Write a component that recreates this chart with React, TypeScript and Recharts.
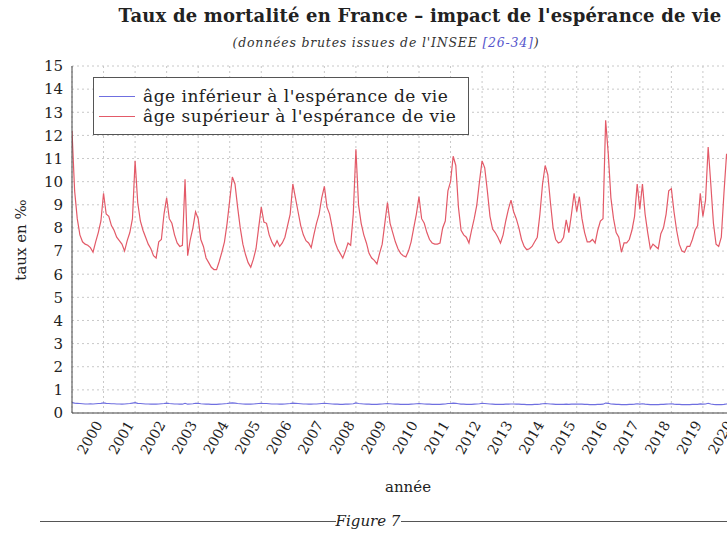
import React from 'react';
import { LineChart, Line, XAxis, YAxis, CartesianGrid, Legend } from 'recharts';

// monthly series, first point = January of firstYear (axis units)
const firstYear = 1999;

const tickYears = [2000, 2001, 2002, 2003, 2004, 2005, 2006, 2007, 2008, 2009, 2010,
  2011, 2012, 2013, 2014, 2015, 2016, 2017, 2018, 2019, 2020];

const yTicks = [0, 1, 2, 3, 4, 5, 6, 7, 8, 9, 10, 11, 12, 13, 14, 15];

const seriesNames = ["âge inférieur à l'espérance de vie", "âge supérieur à l'espérance de vie"];

const rateAbove = [
  12.2, 9.6, 8.4, 7.7, 7.4, 7.3, 7.25, 7.15, 6.95, 7.4, 7.8, 8.3,
  9.5, 8.6, 8.5, 8.1, 7.9, 7.6, 7.45, 7.3, 7.0, 7.45, 7.8, 8.4,
  10.9, 9.1, 8.3, 7.9, 7.6, 7.3, 7.1, 6.8, 6.7, 7.4, 7.5, 8.6,
  9.3, 8.4, 8.2, 7.7, 7.35, 7.2, 7.25, 10.1, 6.8, 7.5, 8.0, 8.7,
  8.4, 7.5, 7.2, 6.7, 6.5, 6.3, 6.2, 6.2, 6.55, 6.95, 7.4, 8.2,
  9.2, 10.2, 9.9, 8.9, 8.0, 7.3, 6.85, 6.5, 6.3, 6.65, 7.1, 8.0,
  8.9, 8.25, 8.2, 7.7, 7.4, 7.2, 7.45, 7.2, 7.35, 7.6, 8.1, 8.6,
  9.9, 9.3, 8.7, 8.1, 7.7, 7.45, 7.35, 7.15, 7.7, 8.2, 8.6, 9.3,
  9.8, 8.9, 8.6, 8.0, 7.4, 7.1, 6.9, 6.7, 7.0, 7.35, 7.25, 8.6,
  11.4, 9.0, 8.2, 7.7, 7.35, 6.9, 6.7, 6.6, 6.45, 6.9, 7.3, 8.2,
  9.1, 8.2, 7.8, 7.4, 7.1, 6.9, 6.8, 6.75, 7.0, 7.4, 8.0, 8.6,
  9.35, 8.4, 8.2, 7.8, 7.5, 7.35, 7.3, 7.3, 7.35, 8.0, 8.3, 9.6,
  10.0, 11.1, 10.7, 8.9, 7.9, 7.7, 7.6, 7.35, 7.9, 8.4, 9.0, 10.0,
  10.9, 10.6, 9.6, 8.5, 7.95, 7.8, 7.6, 7.35, 7.7, 8.3, 8.8, 9.2,
  8.7, 8.4, 8.0, 7.5, 7.2, 7.06, 7.1, 7.2, 7.4, 7.6, 8.6, 9.9,
  10.7, 10.3, 9.1, 8.0, 7.5, 7.35, 7.4, 7.6, 8.35, 7.8, 8.6, 9.5,
  8.7, 9.35, 8.4, 7.8, 7.4, 7.4, 7.5, 7.35, 7.9, 8.3, 8.4, 12.65,
  11.2, 9.3, 8.4, 7.8, 7.6, 6.95, 7.35, 7.35, 7.5, 7.9, 8.5, 9.9,
  8.8, 9.9, 8.6, 7.8, 7.1, 7.3, 7.2, 7.1, 7.75, 8.0, 8.6, 9.6,
  9.7, 8.7, 7.9, 7.3, 7.0, 6.95, 7.2, 7.2, 7.5, 7.9, 8.1, 9.5,
  8.5, 9.2, 11.5, 9.9, 8.2, 7.3, 7.2, 7.6, 9.5, 11.2, 10.6, 9.8,
  9.4, 8.6,
];

const rateBelow = [
  0.45, 0.43, 0.42, 0.41, 0.40, 0.39, 0.39, 0.40, 0.39, 0.40, 0.41, 0.42,
  0.44, 0.42, 0.41, 0.40, 0.40, 0.39, 0.39, 0.38, 0.39, 0.40, 0.41, 0.43,
  0.45, 0.42, 0.41, 0.40, 0.39, 0.39, 0.38, 0.38, 0.38, 0.39, 0.40, 0.41,
  0.43, 0.41, 0.40, 0.39, 0.39, 0.38, 0.38, 0.42, 0.38, 0.39, 0.40, 0.42,
  0.42, 0.40, 0.39, 0.38, 0.38, 0.37, 0.37, 0.37, 0.38, 0.39, 0.40, 0.41,
  0.43, 0.44, 0.43, 0.41, 0.40, 0.39, 0.38, 0.38, 0.38, 0.39, 0.40, 0.41,
  0.42, 0.41, 0.41, 0.40, 0.39, 0.39, 0.39, 0.38, 0.38, 0.39, 0.40, 0.41,
  0.43, 0.42, 0.41, 0.40, 0.39, 0.39, 0.38, 0.38, 0.39, 0.39, 0.40, 0.41,
  0.42, 0.41, 0.40, 0.39, 0.38, 0.38, 0.37, 0.37, 0.38, 0.38, 0.39, 0.40,
  0.44, 0.41, 0.40, 0.39, 0.38, 0.38, 0.37, 0.37, 0.37, 0.38, 0.39, 0.40,
  0.41, 0.40, 0.39, 0.38, 0.38, 0.37, 0.37, 0.37, 0.37, 0.38, 0.39, 0.40,
  0.41, 0.40, 0.39, 0.38, 0.38, 0.37, 0.37, 0.37, 0.37, 0.38, 0.39, 0.41,
  0.41, 0.43, 0.42, 0.40, 0.38, 0.38, 0.37, 0.37, 0.37, 0.38, 0.39, 0.40,
  0.42, 0.41, 0.40, 0.39, 0.38, 0.37, 0.37, 0.37, 0.37, 0.38, 0.38, 0.39,
  0.39, 0.38, 0.38, 0.37, 0.37, 0.36, 0.36, 0.36, 0.37, 0.37, 0.38, 0.40,
  0.41, 0.40, 0.39, 0.38, 0.37, 0.37, 0.37, 0.37, 0.38, 0.37, 0.38, 0.39,
  0.38, 0.39, 0.38, 0.37, 0.37, 0.36, 0.36, 0.36, 0.37, 0.37, 0.38, 0.43,
  0.42, 0.39, 0.38, 0.37, 0.37, 0.36, 0.36, 0.36, 0.37, 0.37, 0.38, 0.40,
  0.38, 0.40, 0.38, 0.37, 0.36, 0.36, 0.36, 0.36, 0.37, 0.37, 0.38, 0.39,
  0.40, 0.38, 0.37, 0.37, 0.36, 0.36, 0.36, 0.36, 0.37, 0.37, 0.37, 0.39,
  0.38, 0.39, 0.42, 0.39, 0.37, 0.36, 0.36, 0.36, 0.37, 0.39, 0.41, 0.40,
  0.39, 0.38,
];

const rows = rateAbove.map((v, i) => ({
  t: firstYear + i / 12,
  above: v,
  below: rateBelow[i],
}));

const SERIF = '"DejaVu Serif", "Liberation Serif", serif';
const BLUE = '#6f6fe0';
const RED = '#e35a68';
const FRAME = '#444';

const YearTick = (props: any) => {
  const { x, y, payload } = props;
  const ax = x - 5;
  const ay = y + 1;
  return (
    <text
      x={ax}
      y={ay}
      transform={`rotate(-60 ${ax} ${ay})`}
      textAnchor="end"
      dominantBaseline="central"
      fontSize={14}
      fontFamily={SERIF}
      fill="#222"
    >
      {payload.value}
    </text>
  );
};

const LegendBox = () => (
  <div
    style={{
      background: '#fff',
      border: '1px solid #555',
      padding: '8px 12px 8px 5px',
      fontFamily: SERIF,
      fontSize: 17,
      letterSpacing: 0.5,
      color: '#222',
      lineHeight: '20px',
      whiteSpace: 'nowrap',
    }}
  >
    {[BLUE, RED].map((c, i) => (
      <div key={i} style={{ display: 'flex', alignItems: 'center' }}>
        <span style={{ display: 'inline-block', width: 36, height: 0, borderTop: `1.3px solid ${c}`, marginRight: 8 }} />
        <span>{seriesNames[i]}</span>
      </div>
    ))}
  </div>
);

const centered = (left: number, top: number): React.CSSProperties => ({
  position: 'absolute',
  left,
  top,
  transform: 'translate(-50%, -50%)',
  whiteSpace: 'nowrap',
  fontFamily: SERIF,
  color: '#222',
});

export default function App() {
  return (
    <div style={{ position: 'fixed', left: 0, top: 0, width: 727, height: 537, overflow: 'hidden', background: '#fff' }}>
      <LineChart width={800} height={537} data={rows} margin={{ top: 66, right: 34, bottom: 64, left: 32 }}>
        <CartesianGrid stroke="#c8c8c8" strokeDasharray="2 3" />
        <XAxis
          dataKey="t"
          type="number"
          domain={[1999, 2021]}
          ticks={tickYears}
          interval={0}
          allowDataOverflow
          height={60}
          tick={<YearTick />}
          tickLine={false}
          axisLine={{ stroke: FRAME }}
        />
        <XAxis
          xAxisId="top"
          orientation="top"
          type="number"
          domain={[1999, 2021]}
          ticks={tickYears}
          interval={0}
          height={0}
          mirror
          tick={false}
          tickSize={5}
          tickLine={{ stroke: FRAME }}
          axisLine={{ stroke: FRAME }}
        />
        <YAxis
          type="number"
          domain={[0, 15]}
          ticks={yTicks}
          interval={0}
          width={40}
          tickSize={6}
          tickMargin={3}
          tickLine={false}
          axisLine={{ stroke: FRAME }}
          tick={{ fontSize: 15, fontFamily: SERIF, fill: '#222' }}
        />
        <Legend
          layout="vertical"
          align="center"
          verticalAlign="middle"
          content={<LegendBox />}
          wrapperStyle={{ left: 93, top: 77, width: 'auto', height: 'auto' }}
        />
        <Line
          type="linear"
          dataKey="below"
          name={seriesNames[0]}
          stroke={BLUE}
          strokeWidth={1.2}
          dot={false}
          isAnimationActive={false}
        />
        <Line
          type="linear"
          dataKey="above"
          name={seriesNames[1]}
          stroke={RED}
          strokeWidth={1.2}
          dot={false}
          isAnimationActive={false}
        />
      </LineChart>

      <div style={{ ...centered(420, 15), fontWeight: 'bold', fontSize: 18, letterSpacing: 0.2 }}>
        Taux de mortalité en France – impact de l'espérance de vie
      </div>
      <div style={{ ...centered(386, 42), fontStyle: 'italic', fontSize: 12.5, letterSpacing: 0.8, color: '#333' }}>
        (données brutes issues de l'INSEE <span style={{ color: '#5555cc' }}>[26-34]</span>)
      </div>
      <div style={{ ...centered(21, 240), transform: 'translate(-50%, -50%) rotate(-90deg)', fontSize: 15 }}>
        taux en ‰
      </div>
      <div style={{ ...centered(408, 487), fontSize: 15 }}>année</div>
      <div style={{ position: 'absolute', left: 40, top: 521, width: 296, borderTop: '1px solid #555' }} />
      <div style={{ position: 'absolute', left: 401, top: 521, width: 330, borderTop: '1px solid #555' }} />
      <div style={{ ...centered(368, 521), fontStyle: 'italic', fontSize: 15 }}>Figure 7</div>
    </div>
  );
}
